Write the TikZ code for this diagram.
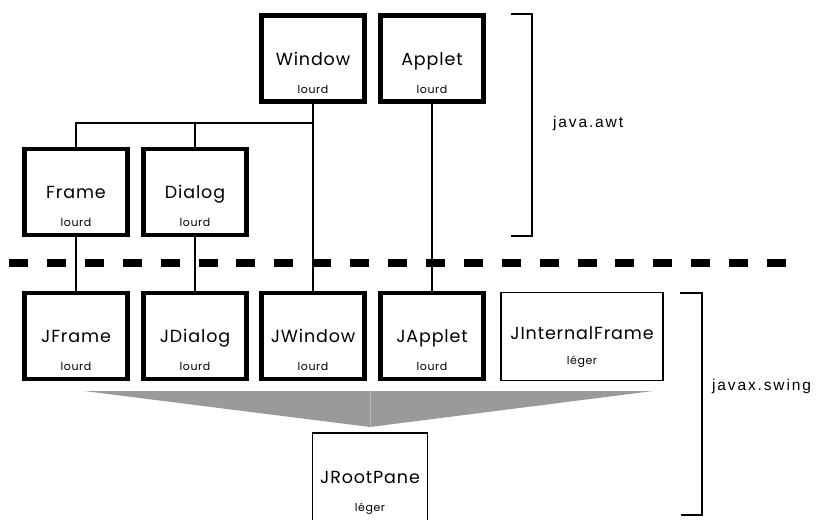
\documentclass[tikz,border=0pt]{standalone}
\usepackage{fontspec}
\setmainfont{Poppins}
\newfontfamily\boxfont[LetterSpace=5]{Poppins}
\newfontfamily\pkgfont[LetterSpace=12]{Liberation Sans}
\usetikzlibrary{positioning,calc}
\definecolor{inkBlack}{HTML}{000000}
\definecolor{wedgeGray}{HTML}{9A9A9A}
\definecolor{seamGray}{HTML}{B8B8B8}
\tikzset{
    heavybox/.style={draw=inkBlack,line width=4.6pt,fill=white,
        minimum width=103pt,minimum height=86pt,inner sep=0pt,
        font=\boxfont\fontsize{17.5}{20}\selectfont,text height=15pt,text depth=2pt},
    lightbox/.style={draw=inkBlack,line width=1.3pt,fill=white,
        minimum width=162pt,minimum height=88pt,inner sep=0pt,
        font=\boxfont\fontsize{17.5}{20}\selectfont,text height=13pt,text depth=8pt},
    weight/.style={font=\boxfont\fontsize{11}{13}\selectfont,anchor=base,inner sep=0pt},
    link/.style={draw=inkBlack,line width=1.1pt},
    layerline/.style={draw=inkBlack,line width=8pt,dash pattern=on 19pt off 18.9pt},
    pkgbrace/.style={draw=inkBlack,line width=1.3pt},
    pkglabel/.style={font=\pkgfont\fontsize{15.5}{18}\selectfont,anchor=base west,inner sep=0pt}
}
\begin{document}
\begin{tikzpicture}[x=1pt,y=-1pt]
    \clip (0,0) rectangle (829,519);
    % awt side
    \node[heavybox] (window) at (313,58.5) {Window};
    \node[heavybox] (applet) at (432,58.5) {Applet};
    \node[heavybox] (frame) at (76,192) {Frame};
    \node[heavybox] (dialog) at (195,192) {Dialog};
    \node[weight] (window-w) at ([yshift=10.5pt]window.south) {lourd};
    \node[weight] (applet-w) at ([yshift=10.5pt]applet.south) {lourd};
    \node[weight] (frame-w) at ([yshift=10.5pt]frame.south) {lourd};
    \node[weight] (dialog-w) at ([yshift=10.5pt]dialog.south) {lourd};
    % swing side
    \node[heavybox] (jframe) at (76,336) {JFrame};
    \node[heavybox] (jdialog) at (195,336) {JDialog};
    \node[heavybox] (jwindow) at (313,336) {JWindow};
    \node[heavybox] (japplet) at (432,336) {JApplet};
    \node[lightbox] (jinternal) at (582,336.5) {JInternalFrame};
    \node[lightbox,minimum width=115pt,minimum height=96pt] (jroot) at (370,481) {JRootPane};
    \node[weight] (jframe-w) at ([yshift=10.5pt]jframe.south) {lourd};
    \node[weight] (jdialog-w) at ([yshift=10.5pt]jdialog.south) {lourd};
    \node[weight] (jwindow-w) at ([yshift=10.5pt]jwindow.south) {lourd};
    \node[weight] (japplet-w) at ([yshift=10.5pt]japplet.south) {lourd};
    \node[weight] (jinternal-w) at ([yshift=17pt]jinternal.south) {léger};
    \node[weight] (jroot-w) at ([yshift=18pt]jroot.south) {léger};
    % inheritance links
    \coordinate (awt-bus) at (313,123);
    \draw[link] (frame.north) |- (awt-bus);
    \draw[link] (dialog.north) -- (dialog.north |- awt-bus);
    \draw[link] (window.south) -- (jwindow.north);
    \draw[link] (applet.south) -- (japplet.north);
    \draw[link] (frame.south) -- (jframe.north);
    \draw[link] (dialog.south) -- (jdialog.north);
    % awt / swing border
    \draw[layerline] (9,263) -- (800,263);
    % funnel to the root pane
    \fill[wedgeGray] (84,391) -- (653,391) -- (jroot.north |- 0,427) -- cycle;
    \draw[seamGray,line width=0.8pt] (jroot.north |- 0,391) -- (jroot.north |- 0,427);
    % packages
    \draw[pkgbrace] (511,14) -- (532,14) -- (532,236) -- (511,236);
    \draw[pkgbrace] (680,293) -- (702,293) -- (702,515) -- (681,515);
    \node[pkglabel] (awt) at (553,127) {java.awt};
    \node[pkglabel] (swing) at (712,390) {javax.swing};
\end{tikzpicture}
\end{document}
